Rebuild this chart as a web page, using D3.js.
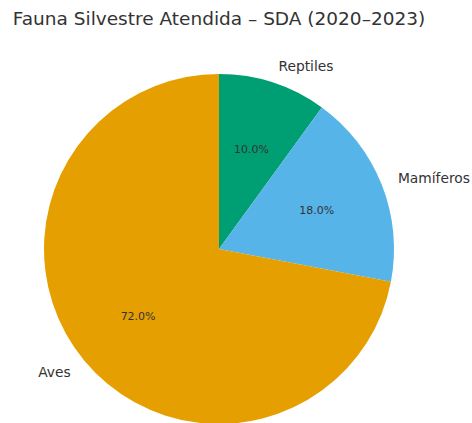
<!DOCTYPE html>
<html>
<head>
<meta charset="utf-8">
<script src="https://cdn.jsdelivr.net/npm/d3@7"></script>
<style>
  body { margin: 0; background: #fff; }
  text { font-family: "DejaVu Sans", sans-serif; fill: #333; }
</style>
</head>
<body>
<svg width="472" height="423"></svg>
<script>
var categories = ["Reptiles", "Mamíferos", "Aves"],
    values = [10, 18, 72],
    colors = ["#009e73", "#56b4e9", "#e69f00"];

var svg = d3.select("svg"),
    cx = 219, cy = 249, radius = 175;

svg.append("text")
    .attr("x", cx)
    .attr("y", 25)
    .attr("text-anchor", "middle")
    .style("font-size", "18.5px")
    .text("Fauna Silvestre Atendida – SDA (2020–2023)");

var g = svg.append("g").attr("transform", "translate(" + cx + "," + cy + ")");

var pie = d3.pie().sort(null).value(function(d) { return d; });
var arc = d3.arc().innerRadius(0).outerRadius(radius);
var arcs = pie(values);
var total = d3.sum(values);

g.selectAll(".slice")
    .data(arcs)
    .enter().append("path")
    .attr("class", "slice")
    .attr("d", arc)
    .attr("fill", function(d, i) { return colors[i]; });

function pos(d, r) {
    var a = (d.startAngle + d.endAngle) / 2;
    return [r * Math.sin(a), -r * Math.cos(a)];
}

// category labels at 1.1 r
g.selectAll(".label")
    .data(arcs)
    .enter().append("text")
    .attr("class", "label")
    .attr("x", function(d) { return pos(d, radius * 1.1)[0]; })
    .attr("y", function(d) { return pos(d, radius * 1.1)[1]; })
    .attr("dy", "0.35em")
    .attr("text-anchor", function(d) { return pos(d, 1)[0] > 0 ? "start" : "end"; })
    .style("font-size", "13.8px")
    .text(function(d, i) { return categories[i]; });

// percentages at 0.6 r
g.selectAll(".pct")
    .data(arcs)
    .enter().append("text")
    .attr("class", "pct")
    .attr("x", function(d) { return pos(d, radius * 0.6)[0]; })
    .attr("y", function(d) { return pos(d, radius * 0.6)[1]; })
    .attr("dy", "0.35em")
    .attr("text-anchor", "middle")
    .style("font-size", "11px")
    .text(function(d) { return (d.value / total * 100).toFixed(1) + "%"; });
</script>
</body>
</html>
